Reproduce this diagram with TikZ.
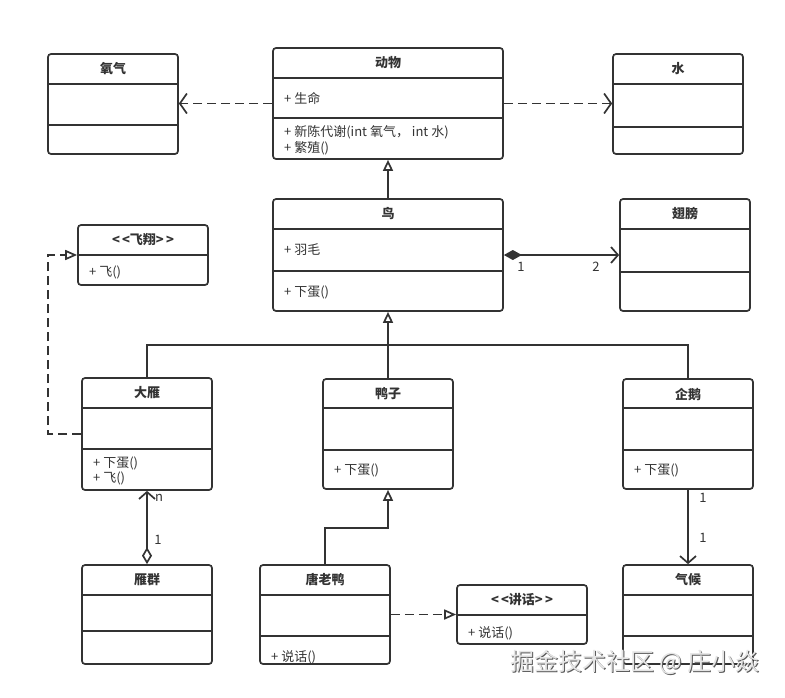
\documentclass[tikz,border=0pt]{standalone}
\usepackage{fontspec}
\setmainfont{Noto Sans CJK SC}
\usetikzlibrary{arrows.meta,calc}
\definecolor{ink}{HTML}{333333}
\tikzset{
  box/.style={draw=ink, line width=1.7pt, rounded corners=3pt, inner sep=0pt},
  divl/.style={draw=ink, line width=1.7pt},
  ttl/.style={font=\fontsize{13}{15}\selectfont\bfseries, text=ink, inner sep=0pt},
  mem/.style={font=\fontsize{13}{15}\selectfont, text=ink, anchor=west, inner sep=0pt},
  lbl/.style={font=\fontsize{13}{15}\selectfont, text=ink, inner sep=0pt},
  conn/.style={draw=ink, line width=1.7pt},
  dashpat/.style={dash pattern=on 9pt off 5pt},
  dep/.style={conn, dashpat, -{Straight Barb[length=7pt,width=20pt]}},
  assoc/.style={conn, -{Straight Barb[length=7pt,width=16pt]}},
  gen/.style={conn, -{Triangle[open,length=11pt,width=10pt]}},
  real/.style={conn, dashpat, -{Triangle[open,length=12pt,width=10pt]}},
  comp/.style={conn, {Diamond[length=18pt,width=10pt]}-{Straight Barb[length=7pt,width=16pt]}},
  aggr/.style={conn, {Diamond[open,length=17pt,width=10pt]}-{Straight Barb[length=7pt,width=16pt]}},
}
% #1 name, #2 left, #3 top, #4 right, #5 bottom, #6 dividers, #7 title
\newcommand\umlclass[7]{%
  \node[box, minimum width={#4-#2}, minimum height={#5-#3}] (#1) at ({(#2+#4)/2},{(#3+#5)/2}) {};
  \foreach \dd in {#6} {\draw[divl] (#1.west |- 0,\dd) -- (#1.east |- 0,\dd);}
  \node[ttl] (#1T) at ({(#2+#4)/2},{#3+15}) {#7};
}
\begin{document}
\begin{tikzpicture}[x=1pt,y=-1pt]
\useasboundingbox (0,0) rectangle (785,697);

\umlclass{oxy}{48}{54}{178}{154}{84,125}{氧气}
\umlclass{animal}{273}{48}{503}{159}{78,118}{动物}
\umlclass{water}{613}{54}{743}{154}{84,127}{水}
\umlclass{fly}{78}{225}{208}{285}{255}{<\,<飞翔>\,>}
\umlclass{bird}{273}{199}{503}{311}{229,271}{鸟}
\umlclass{wing}{620}{199}{750}{311}{229,272}{翅膀}
\umlclass{goose}{82}{378}{212}{490}{408,449}{大雁}
\umlclass{duck}{323}{379}{453}{489}{408,450}{鸭子}
\umlclass{penguin}{623}{379}{753}{489}{408,450}{企鹅}
\umlclass{flock}{82}{565}{212}{664}{595,631}{雁群}
\umlclass{tang}{260}{565}{390}{664}{595,636}{唐老鸭}
\umlclass{speak}{457}{585}{587}{644}{615}{<\,<讲话>\,>}
\umlclass{climate}{623}{565}{753}{664}{595,636}{气候}

% members
\node[mem] (a1) at (284,98) {+ 生命};
\node[mem] (a2) at (284,132) {+ 新陈代谢(int 氧气， int 水)};
\node[mem] (a3) at (284,148) {+ 繁殖()};
\node[mem] (f1) at (89,272) {+ 飞()};
\node[mem] (b1) at (284,250) {+ 羽毛};
\node[mem] (b2) at (284,292) {+ 下蛋()};
\node[mem] (g1) at (93,463) {+ 下蛋()};
\node[mem] (g2) at (93,478) {+ 飞()};
\node[mem] (d1) at (334,470) {+ 下蛋()};
\node[mem] (p1) at (634,470) {+ 下蛋()};
\node[mem] (t1) at (271,657) {+ 说话()};
\node[mem] (s1) at (468,633) {+ 说话()};

% connectors
\draw[dep] (animal.west) -- (oxy.east |- animal.west);
\draw[dep] (animal.east) -- (water.west |- animal.east);
\draw[gen] (bird.north) -- (animal.south);
\draw[comp] (bird.east) -- (wing.west);
\coordinate (junc) at (388,345);
\draw[gen] (duck.north) -- (bird.south);
\draw[conn] (goose.north) |- (junc) -| (penguin.north);
\coordinate (flyc) at (48,434);
\draw[real] (goose.west) -- (flyc) |- (fly.west);
\draw[aggr] (flock.north) -- (goose.south);
\coordinate (tk) at (388,528);
\draw[gen] (tang.north) |- (tk) -- (duck.south);
\draw[real] (tang.east) -- (speak.west);
\draw[assoc] (penguin.south) -- (climate.north);

% multiplicities
\node[lbl] (m1) at (521,267) {1};
\node[lbl] (m2) at (596,267) {2};
\node[lbl] (m3) at (159,498) {n};
\node[lbl] (m4) at (158,540) {1};
\node[lbl] (m5) at (703,498) {1};
\node[lbl] (m6) at (703,538) {1};

% watermark
\node[font=\fontsize{24}{26}\selectfont, text=gray!70!black, inner sep=0pt] (wmS) at (636,663) {掘金技术社区 @ 庄小焱};
\node[font=\fontsize{24}{26}\selectfont, text=gray!20, inner sep=0pt] (wm) at (635,662) {掘金技术社区 @ 庄小焱};
\end{tikzpicture}
\end{document}
